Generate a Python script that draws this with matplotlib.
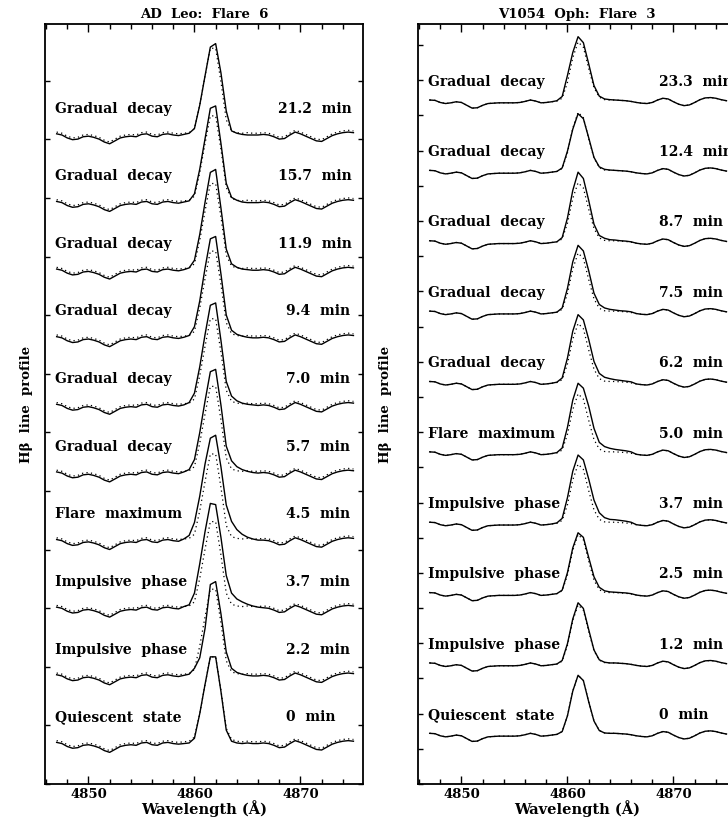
import numpy as np
import matplotlib
matplotlib.use("Agg")
import matplotlib.pyplot as plt
from matplotlib.ticker import MultipleLocator

plt.rcParams['font.family'] = 'DejaVu Serif'
plt.rcParams['font.weight'] = 'bold'
plt.rcParams['axes.labelweight'] = 'bold'
plt.rcParams['font.size'] = 10

# wavelength sampling of the spectra, 4847-4875 A in 0.5 A steps
wavelength = np.arange(4847.0, 4875.01, 0.5)
# the line-core samples of each spectrum start here (4859.0 ... 4866.0)
core_start = 4859.0

# ---------------- AD Leo, flare 6 ----------------
# mean quiescent profile (dotted), relative to the row baseline
adleo_quiet = [
    0.04, 0.02, -0.03, -0.06, -0.05, -0.01, 0.00, -0.02, -0.05, -0.10,
    -0.13, -0.08, -0.03, -0.01, 0.00, -0.01, 0.03, 0.04, 0.00, -0.01,
    0.03, 0.04, 0.02, 0.01, 0.02, 0.03, 0.10, 0.50, 1.00, 1.47,
    1.47, 0.90, 0.25, 0.06, 0.03, 0.02, 0.03, 0.02, 0.02, 0.03,
    0.02, -0.01, -0.05, -0.04, 0.02, 0.07, 0.04, 0.00, -0.04, -0.08,
    -0.09, -0.04, 0.01, 0.04, 0.06, 0.07, 0.06,
]
adleo_phase = ["Quiescent  state", "Impulsive  phase", "Impulsive  phase",
               "Flare  maximum", "Gradual  decay", "Gradual  decay",
               "Gradual  decay", "Gradual  decay", "Gradual  decay",
               "Gradual  decay"]
adleo_time = ["0  min", "2.2  min", "3.7  min", "4.5  min", "5.7  min",
              "7.0  min", "9.4  min", "11.9  min", "15.7  min", "21.2  min"]
# line cores of the individual spectra (solid), 4859.0-4866.0 A
adleo_core = [
    [-0.01, 0.00, 0.08, 0.50, 1.00, 1.47, 1.47, 0.88, 0.22, 0.03, 0.00, -0.01, 0.00, -0.01, -0.01],
    [0.00, 0.02, 0.12, 0.30, 0.80, 1.55, 1.60, 1.05, 0.40, 0.12, 0.05, 0.02, 0.00, -0.01, -0.01],
    [0.02, 0.05, 0.25, 0.75, 1.30, 1.78, 1.76, 1.20, 0.55, 0.25, 0.15, 0.10, 0.06, 0.03, 0.01],
    [0.02, 0.08, 0.30, 0.75, 1.30, 1.74, 1.79, 1.25, 0.60, 0.32, 0.18, 0.10, 0.05, 0.02, 0.00],
    [0.01, 0.05, 0.22, 0.68, 1.22, 1.72, 1.76, 1.15, 0.45, 0.20, 0.10, 0.05, 0.02, 0.00, -0.01],
    [0.00, 0.04, 0.20, 0.65, 1.20, 1.70, 1.74, 1.10, 0.40, 0.15, 0.07, 0.03, 0.01, 0.00, -0.01],
    [0.00, 0.03, 0.18, 0.62, 1.18, 1.68, 1.72, 1.08, 0.38, 0.12, 0.05, 0.02, 0.00, -0.01, -0.01],
    [0.00, 0.03, 0.16, 0.60, 1.15, 1.66, 1.71, 1.05, 0.35, 0.10, 0.04, 0.01, 0.00, -0.01, -0.01],
    [0.00, 0.02, 0.14, 0.56, 1.08, 1.60, 1.64, 1.00, 0.32, 0.08, 0.03, 0.00, -0.01, -0.01, -0.01],
    [0.00, 0.02, 0.10, 0.50, 1.00, 1.49, 1.55, 1.05, 0.40, 0.06, 0.02, 0.00, -0.01, -0.01, -0.01],
]
adleo_wing_offset = 0.03

# ---------------- V1054 Oph, flare 3 ----------------
v1054_quiet = [
    0.05, 0.04, -0.02, -0.05, -0.03, 0.00, -0.02, -0.10, -0.18, -0.17,
    -0.10, -0.05, -0.04, -0.03, -0.03, -0.03, -0.03, -0.02, 0.01, 0.05,
    0.02, -0.03, -0.02, 0.00, 0.02, 0.10, 0.55, 1.25, 1.70, 1.55,
    0.95, 0.40, 0.13, 0.06, 0.05, 0.05, 0.04, 0.03, 0.01, -0.02,
    -0.04, -0.05, -0.02, 0.05, 0.10, 0.08, 0.00, -0.07, -0.11, -0.09,
    -0.02, 0.06, 0.11, 0.12, 0.10, 0.06, 0.03,
]
v1054_phase = ["Quiescent  state", "Impulsive  phase", "Impulsive  phase",
               "Impulsive  phase", "Flare  maximum", "Gradual  decay",
               "Gradual  decay", "Gradual  decay", "Gradual  decay",
               "Gradual  decay"]
v1054_time = ["0  min", "1.2  min", "2.5  min", "3.7  min", "5.0  min",
              "6.2  min", "7.5  min", "8.7  min", "12.4  min", "23.3  min"]
v1054_core = [
    [0.02, 0.10, 0.55, 1.25, 1.70, 1.55, 0.95, 0.40, 0.13, 0.06, 0.05, 0.05, 0.04, 0.03, 0.01],
    [0.02, 0.12, 0.60, 1.30, 1.76, 1.60, 1.00, 0.42, 0.14, 0.07, 0.05, 0.05, 0.04, 0.03, 0.01],
    [0.02, 0.12, 0.62, 1.32, 1.75, 1.62, 1.05, 0.50, 0.20, 0.10, 0.07, 0.06, 0.05, 0.04, 0.02],
    [0.03, 0.16, 0.75, 1.50, 1.96, 1.82, 1.28, 0.68, 0.32, 0.18, 0.13, 0.12, 0.10, 0.08, 0.05],
    [0.03, 0.16, 0.75, 1.52, 2.00, 1.86, 1.35, 0.72, 0.32, 0.20, 0.15, 0.12, 0.10, 0.08, 0.05],
    [0.03, 0.15, 0.72, 1.48, 1.95, 1.80, 1.25, 0.62, 0.28, 0.17, 0.13, 0.10, 0.08, 0.06, 0.04],
    [0.02, 0.14, 0.70, 1.45, 1.92, 1.76, 1.20, 0.56, 0.24, 0.14, 0.10, 0.08, 0.06, 0.05, 0.03],
    [0.02, 0.14, 0.70, 1.48, 2.00, 1.82, 1.20, 0.52, 0.20, 0.12, 0.08, 0.07, 0.05, 0.04, 0.02],
    [0.02, 0.12, 0.60, 1.22, 1.66, 1.52, 0.98, 0.42, 0.15, 0.08, 0.06, 0.05, 0.04, 0.03, 0.01],
    [0.03, 0.15, 0.75, 1.40, 1.85, 1.68, 1.08, 0.46, 0.16, 0.08, 0.06, 0.05, 0.04, 0.03, 0.01],
]
v1054_wing_offset = 0.0


def draw_panel(ax, title, quiet, cores, phases, times, base, step, ymax,
               label_dy, wing_offset, time_x):
    quiet = np.asarray(quiet, dtype=float)
    i0 = int(np.searchsorted(wavelength, core_start))
    for k, (core, phase, t) in enumerate(zip(cores, phases, times)):
        y0 = base + step * k
        spec = quiet - wing_offset
        spec[i0:i0 + len(core)] = core
        ax.plot(wavelength, quiet + y0, color='black', lw=0.9,
                ls=(0, (1, 2.6)))
        ax.plot(wavelength, spec + y0, color='black', lw=1.0)
        ax.text(4846.8, y0 + label_dy, phase, ha='left', va='center')
        ax.text(time_x(t), y0 + label_dy, t, ha='left', va='center')

    ax.set_xlim(4845.9, 4875.9)
    ax.set_ylim(0, ymax)
    ax.xaxis.set_major_locator(MultipleLocator(10))
    ax.xaxis.set_minor_locator(MultipleLocator(2))
    ax.yaxis.set_major_locator(MultipleLocator(1))
    ax.set_yticklabels([])
    ax.tick_params(axis='x', which='major', direction='in', length=5.8,
                   width=1.0, top=True, pad=3)
    ax.tick_params(axis='x', which='minor', direction='in', length=3.6,
                   width=1.0, top=True)
    ax.tick_params(axis='y', which='major', direction='in', length=3.6,
                   width=1.0, right=True)
    ax.tick_params(axis='x', labelsize=9.5)
    for s in ax.spines.values():
        s.set_linewidth(1.3)
    ax.set_title(title, fontsize=9.5, fontweight='bold', pad=4)
    ax.set_xlabel("Wavelength (Å)", fontsize=10.5, labelpad=-0.5)
    ax.set_ylabel("Hβ  line  profile", fontsize=9.5)


fig = plt.figure(figsize=(7.28, 8.17), dpi=100)
ax1 = fig.add_axes([0.0618, 0.0404, 0.4368, 0.9302])
ax2 = fig.add_axes([0.5742, 0.0404, 0.4368, 0.9302])

draw_panel(ax1, "AD  Leo:  Flare  6", adleo_quiet, adleo_core, adleo_phase,
           adleo_time, base=0.70, step=1.154, ymax=12.97, label_dy=0.44,
           wing_offset=adleo_wing_offset,
           time_x=lambda t: 4867.9 if len(t) > 8 else 4868.6)
draw_panel(ax2, "V1054  Oph:  Flare  3", v1054_quiet, v1054_core,
           v1054_phase, v1054_time, base=1.39, step=2.0, ymax=21.6,
           label_dy=0.57, wing_offset=v1054_wing_offset,
           time_x=lambda t: 4868.6)

ax1.yaxis.set_label_coords(-0.038, 0.5)
ax2.yaxis.set_label_coords(-0.082, 0.5)

fig.savefig("out.png", dpi=100)
